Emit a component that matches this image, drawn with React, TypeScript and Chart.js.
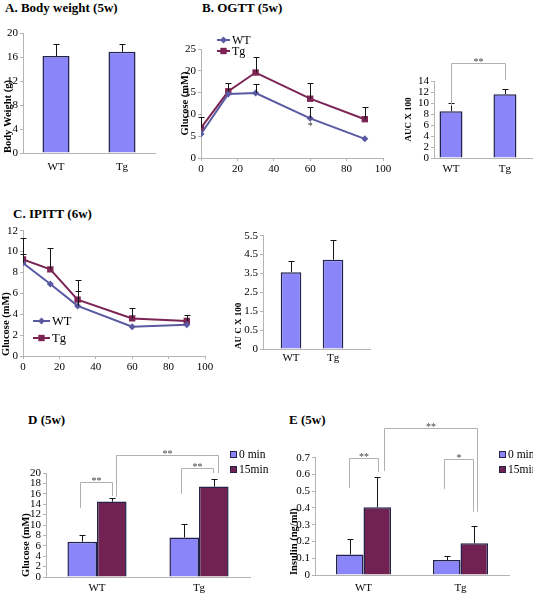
import React, { useEffect, useRef } from 'react';
import { Chart, registerables } from 'chart.js';
Chart.register(...registerables);

// ---------- data ----------
const groups = ['WT', 'Tg'];
// A. Body weight
const bodyWeight = [16.25, 16.95];
const bodyWeightErr = [1.95, 1.25];
// B. OGTT
const ogttTimes = [0, 15, 30, 60, 90];
const ogttWT = [5.5, 14.7, 14.9, 9.1, 4.4];
const ogttWTErr = [null, null, 2.1, 2.7, null];
const ogttTg = [6.9, 15.3, 19.6, 13.6, 8.9];
const ogttTgErr = [2.5, 1.9, 3.6, 3.6, 2.9];
const ogttAUC = [8.5, 11.6];
const ogttAUCErr = [1.5, 0.9];
// C. IPITT
const ipittTimes = [0, 15, 30, 60, 90];
const ipittWT = [8.9, 6.9, 4.8, 2.8, 3.0];
const ipittWTErr = [0.9, null, 1.4, null, null];
const ipittTg = [9.25, 8.3, 5.4, 3.6, 3.35];
const ipittTgErr = [2.05, 2.0, 1.9, 1.0, 0.55];
const ipittAUC = [3.57, 4.23];
const ipittAUCErr = [0.6, 1.05];
const ipittAUCTicks = [-0.5, 0.5, 1.5, 2.5, 3.5, 4.5, 5.5];
const ipittAUCTickLabels = ['0', '0.5', '1.5', '2.5', '3.5', '4.5', '5.5'];
// D. Glucose
const timeLabels = ['0 min', '15min'];
const glucose0 = [6.8, 7.6];
const glucose0Err = [1.3, 2.5];
const glucose15 = [14.5, 17.4];
const glucose15Err = [0.7, 1.4];
// E. Insulin
const insulin0 = [0.123, 0.089];
const insulin0Err = [0.092, 0.026];
const insulin15 = [0.404, 0.189];
const insulin15Err = [0.183, 0.103];

// ---------- style ----------
const SERIF = "'Liberation Serif', 'Times New Roman', Times, serif";
const AXIS = '#b4b4b4';
const BLUE = '#8a86fa';
const EDGE = '#23234a';
const MAROON = '#722252';
const WT_LINE = '#5a5aa3';
const TG_LINE = '#7c2454';

// ---------- plugins ----------
function drawMarker(ctx: CanvasRenderingContext2D, style: string, x: number, y: number, r: number) {
  ctx.beginPath();
  if (style === 'rectRot') {
    ctx.moveTo(x, y - r); ctx.lineTo(x + r, y); ctx.lineTo(x, y + r); ctx.lineTo(x - r, y); ctx.closePath();
  } else {
    const s = r * Math.SQRT1_2;
    ctx.rect(x - s, y - s, 2 * s, 2 * s);
  }
  ctx.fill();
}

const errorBarsPlugin = {
  id: 'errorBars',
  afterDatasetsDraw(chart: any) {
    const ctx = chart.ctx as CanvasRenderingContext2D;
    ctx.save();
    ctx.strokeStyle = '#151515';
    ctx.lineWidth = 1;
    chart.data.datasets.forEach((ds: any, di: number) => {
      const errs = ds.errs;
      if (!errs) return;
      const meta = chart.getDatasetMeta(di);
      const ys = chart.scales[meta.yAxisID];
      meta.data.forEach((el: any, i: number) => {
        const e = errs[i];
        if (e == null) return;
        const v = meta.controller.getParsed(i).y;
        const top = Math.round(ys.getPixelForValue(v + e)) + 0.5;
        const x = Math.round(el.x) + 0.5;
        ctx.beginPath();
        ctx.moveTo(x, el.y);
        ctx.lineTo(x, top);
        ctx.moveTo(x - 3, top);
        ctx.lineTo(x + 3, top);
        ctx.stroke();
      });
    });
    ctx.restore();
  },
};

type Bracket = { a: [number, number]; b: [number, number]; top: number; lb: number; rb: number; label: string; dxa?: number; dxb?: number };
function bracketsPlugin(items: Bracket[]) {
  return {
    id: 'brackets',
    afterDraw(chart: any) {
      const ctx = chart.ctx as CanvasRenderingContext2D;
      const ys = chart.scales.y;
      ctx.save();
      ctx.strokeStyle = '#b0b0b0';
      ctx.lineWidth = 1;
      ctx.fillStyle = '#444';
      ctx.font = `10px ${SERIF}`;
      ctx.textAlign = 'center';
      ctx.textBaseline = 'alphabetic';
      items.forEach((b) => {
        const ea = chart.getDatasetMeta(b.a[0]).data[b.a[1]];
        const eb = chart.getDatasetMeta(b.b[0]).data[b.b[1]];
        const xa = Math.round(ea.x + (b.dxa || 0)) + 0.5;
        const xb = Math.round(eb.x + (b.dxb || 0)) + 0.5;
        const yt = Math.round(ys.getPixelForValue(b.top)) + 0.5;
        ctx.beginPath();
        ctx.moveTo(xa, ys.getPixelForValue(b.lb));
        ctx.lineTo(xa, yt);
        ctx.lineTo(xb, yt);
        ctx.lineTo(xb, ys.getPixelForValue(b.rb));
        ctx.stroke();
        ctx.fillText(b.label, (xa + xb) / 2, yt + 1);
      });
      ctx.restore();
    },
  };
}

type LegendItem = { ds: number; x: number; y: number };
function lineLegendPlugin(items: LegendItem[], size: number, len: number) {
  return {
    id: 'lineLegend',
    afterDraw(chart: any) {
      const ctx = chart.ctx as CanvasRenderingContext2D;
      ctx.save();
      ctx.font = `${size}px ${SERIF}`;
      ctx.textBaseline = 'middle';
      ctx.textAlign = 'left';
      items.forEach((it) => {
        const ds: any = chart.data.datasets[it.ds];
        ctx.strokeStyle = ds.borderColor;
        ctx.fillStyle = ds.borderColor;
        ctx.lineWidth = 2;
        ctx.beginPath();
        ctx.moveTo(it.x, it.y);
        ctx.lineTo(it.x + len, it.y);
        ctx.stroke();
        drawMarker(ctx, ds.pointStyle, it.x + len / 2, it.y, ds.pointRadius);
        ctx.fillStyle = '#000';
        ctx.fillText(ds.label, it.x + len + 2, it.y + 1);
      });
      ctx.restore();
    },
  };
}

function barLegendPlugin(items: LegendItem[], size: number) {
  return {
    id: 'barLegend',
    afterDraw(chart: any) {
      const ctx = chart.ctx as CanvasRenderingContext2D;
      ctx.save();
      ctx.font = `${size}px ${SERIF}`;
      ctx.textBaseline = 'middle';
      ctx.textAlign = 'left';
      items.forEach((it) => {
        const ds: any = chart.data.datasets[it.ds];
        ctx.fillStyle = ds.backgroundColor;
        ctx.fillRect(it.x, it.y - 3, 6, 6);
        ctx.strokeStyle = EDGE;
        ctx.lineWidth = 1;
        ctx.strokeRect(it.x + 0.5, it.y - 2.5, 6, 6);
        ctx.fillStyle = '#000';
        ctx.fillText(ds.label, it.x + 9, it.y + 1);
      });
      ctx.restore();
    },
  };
}

function notesPlugin(items: { x: number; y: number; text: string }[]) {
  return {
    id: 'notes',
    afterDraw(chart: any) {
      const ctx = chart.ctx as CanvasRenderingContext2D;
      ctx.save();
      ctx.font = `10px ${SERIF}`;
      ctx.fillStyle = '#333';
      ctx.textAlign = 'center';
      ctx.textBaseline = 'middle';
      items.forEach((n) => {
        ctx.fillText(n.text, chart.scales.x.getPixelForValue(n.x), chart.scales.y.getPixelForValue(n.y) + 2);
      });
      ctx.restore();
    },
  };
}

// ---------- scale helpers ----------
type YOpts = { min: number; max: number; step?: number; width: number; title: string; titleSize: number; titlePad: number; align?: string; ticks?: number[]; cb?: any };
function yScale(o: YOpts) {
  return {
    type: 'linear', position: 'left', min: o.min, max: o.max,
    ticks: { stepSize: o.step, color: '#000', font: { family: SERIF, size: 11 }, padding: 2, autoSkip: false, ...(o.cb ? { callback: o.cb } : {}) },
    ...(o.ticks ? { afterBuildTicks: (s: any) => { s.ticks = o.ticks!.map((v) => ({ value: v })); } } : {}),
    grid: { drawOnChartArea: false, tickLength: 3, color: AXIS },
    border: { color: AXIS },
    title: { display: true, text: o.title, color: '#000', align: o.align || 'center', font: { family: SERIF, size: o.titleSize, weight: 'bold' }, padding: { top: o.titlePad, bottom: 0 } },
    afterFit: (s: any) => { s.width = o.width; },
  };
}
function xCat(h: number, pad: number) {
  return {
    type: 'category', offset: true,
    grid: { display: false, drawTicks: false, tickLength: 0 }, border: { color: AXIS },
    ticks: { color: '#000', font: { family: SERIF, size: 11 }, padding: pad },
    afterFit: (s: any) => { s.height = h; },
  };
}
function xIdx(h: number, pad: number, min: number, max: number, labels: string[]) {
  return {
    type: 'linear', min, max, offset: false,
    grid: { display: false, drawTicks: false, tickLength: 0, offset: false }, border: { color: AXIS },
    ticks: { color: '#000', font: { family: SERIF, size: 11 }, padding: pad, callback: (v: number) => labels[Math.round(v) - 1] ?? '' },
    afterBuildTicks: (s: any) => { s.ticks = labels.map((_, i) => ({ value: i + 1 })); },
    afterFit: (s: any) => { s.height = h; },
  };
}
function xTime(h: number) {
  return {
    type: 'linear', min: 0, max: 100,
    ticks: { stepSize: 20, color: '#000', font: { family: SERIF, size: 11 }, padding: 2 },
    grid: { drawOnChartArea: false, tickLength: 3, color: AXIS },
    border: { color: AXIS },
    afterFit: (s: any) => { s.height = h; },
  };
}
function baseOptions(top: number, right: number, scales: any) {
  return {
    responsive: false, animation: false,
    layout: { padding: { left: 0, right, top, bottom: 0 } },
    plugins: { legend: { display: false }, tooltip: { enabled: false } },
    scales,
  };
}
const pts = (xs: number[], ys: number[]) => xs.map((x, i) => ({ x, y: ys[i] }));
const idx = (ys: number[]) => ys.map((y, i) => ({ x: i + 1, y }));

function lineDs(label: string, xs: number[], ys: number[], errs: any[], color: string, style: string, r: number) {
  return { label, data: pts(xs, ys), errs, borderColor: color, backgroundColor: color, borderWidth: 2, pointStyle: style, pointRadius: r, pointBorderWidth: 0, tension: 0 };
}

// ---------- configs ----------
const makeA = () => ({
  type: 'bar',
  data: { labels: groups, datasets: [{ label: 'Body weight', data: bodyWeight, errs: bodyWeightErr, backgroundColor: BLUE, borderColor: EDGE, borderWidth: 1.5, categoryPercentage: 0.41, barPercentage: 1 }] },
  options: baseOptions(8, 15, { x: xCat(22, 8), y: yScale({ min: 0, max: 20, step: 4, width: 23, title: 'Body Weight (g)', titleSize: 10.5, titlePad: 2, align: 'start' }) }),
  plugins: [errorBarsPlugin],
});

const makeB = () => ({
  type: 'line',
  data: { datasets: [
    lineDs('WT', ogttTimes, ogttWT, ogttWTErr, WT_LINE, 'rectRot', 3.5),
    lineDs('Tg', ogttTimes, ogttTg, ogttTgErr, TG_LINE, 'rect', 4.5),
  ] },
  options: baseOptions(19, 13, { x: xTime(19), y: yScale({ min: 0, max: 25, step: 5, width: 23, title: 'Glucose (mM)', titleSize: 10.5, titlePad: 1 }) }),
  plugins: [errorBarsPlugin, lineLegendPlugin([{ ds: 0, x: 39, y: 10 }, { ds: 1, x: 39, y: 21 }], 12, 13), notesPlugin([{ x: 60, y: 7.7, text: '*' }])],
});

const makeBAUC = () => ({
  type: 'bar',
  data: { datasets: [{ label: 'AUC', data: idx(ogttAUC), errs: ogttAUCErr, backgroundColor: BLUE, borderColor: EDGE, borderWidth: 1.5, categoryPercentage: 0.426, barPercentage: 1 }] },
  options: baseOptions(29, 0, { x: xIdx(19, 5, 0.685, 2.52, groups), y: yScale({ min: 0, max: 14, step: 2, width: 34, title: 'AUC X 100', titleSize: 9, titlePad: 3.5 }) }),
  plugins: [errorBarsPlugin, bracketsPlugin([{ a: [0, 0], b: [0, 1], top: 17.3, lb: 9.5, rb: 14.2, label: '**' }])],
});

const makeC = () => ({
  type: 'line',
  data: { datasets: [
    lineDs('WT', ipittTimes, ipittWT, ipittWTErr, WT_LINE, 'rectRot', 3.5),
    lineDs('Tg', ipittTimes, ipittTg, ipittTgErr, TG_LINE, 'rect', 4.5),
  ] },
  options: baseOptions(30.7, 17, { x: xTime(19), y: yScale({ min: 0, max: 12, step: 2, width: 23, title: 'Glucose (mM)', titleSize: 10.5, titlePad: 0, align: 'start' }) }),
  plugins: [errorBarsPlugin, lineLegendPlugin([{ ds: 0, x: 33, y: 121 }, { ds: 1, x: 33, y: 138 }], 12.5, 17)],
});

const makeCAUC = () => ({
  type: 'bar',
  data: { datasets: [{ label: 'AUC', data: idx(ipittAUC), errs: ipittAUCErr, base: -0.5, backgroundColor: BLUE, borderColor: EDGE, borderWidth: 1.5, categoryPercentage: 0.49, barPercentage: 1 }] },
  options: baseOptions(10.7, 5, { x: xIdx(16, 3, 0.333, 2.88, groups), y: yScale({ min: -0.5, max: 5.5, width: 38, title: 'AU C X 100', titleSize: 9, titlePad: 8.5, align: 'start', ticks: ipittAUCTicks, cb: (_v: number, i: number) => ipittAUCTickLabels[i] }) }),
  plugins: [errorBarsPlugin],
});

const makeD = () => ({
  type: 'bar',
  data: { labels: groups, datasets: [
    { label: timeLabels[0], data: glucose0, errs: glucose0Err, backgroundColor: BLUE, borderColor: EDGE, borderWidth: 1.5, categoryPercentage: 0.58, barPercentage: 1 },
    { label: timeLabels[1], data: glucose15, errs: glucose15Err, backgroundColor: MAROON, borderColor: EDGE, borderWidth: 1.5, categoryPercentage: 0.58, barPercentage: 1 },
  ] },
  options: baseOptions(43, 25, { x: xCat(17, 5), y: yScale({ min: 0, max: 20, step: 2, width: 46, title: 'Glucose (mM)', titleSize: 10.5, titlePad: 19.5, align: 'start' }) }),
  plugins: [errorBarsPlugin,
    bracketsPlugin([
      { a: [0, 0], b: [1, 0], top: 18.3, lb: 13.3, rb: 15.6, label: '**', dxa: -2 },
      { a: [1, 0], b: [1, 1], top: 23.5, lb: 15.4, rb: 20.0, label: '**', dxa: 4, dxb: 4 },
      { a: [0, 1], b: [1, 1], top: 21.0, lb: 16.0, rb: 20.0, label: '**', dxa: -3, dxb: -1 },
    ]),
    barLegendPlugin([{ ds: 0, x: 230, y: 24 }, { ds: 1, x: 230, y: 39 }], 11.5)],
});

const makeE = () => ({
  type: 'bar',
  data: { labels: groups, datasets: [
    { label: timeLabels[0], data: insulin0, errs: insulin0Err, backgroundColor: BLUE, borderColor: EDGE, borderWidth: 1.5, categoryPercentage: 0.567, barPercentage: 1 },
    { label: timeLabels[1], data: insulin15, errs: insulin15Err, backgroundColor: MAROON, borderColor: EDGE, borderWidth: 1.5, categoryPercentage: 0.567, barPercentage: 1 },
  ] },
  options: baseOptions(47.7, 24, { x: xCat(19, 7), y: yScale({ min: 0, max: 0.7, step: 0.1, width: 45, title: 'Insulin (ng/ml)', titleSize: 10.5, titlePad: 17.5, align: 'start', cb: (v: number) => String(+v.toFixed(1)) }) }),
  plugins: [errorBarsPlugin,
    bracketsPlugin([
      { a: [0, 0], b: [1, 0], top: 0.70, lb: 0.52, rb: 0.615, label: '**', dxa: -1, dxb: 1 },
      { a: [1, 0], b: [1, 1], top: 0.88, lb: 0.62, rb: 0.378, label: '**', dxa: 7, dxb: 3 },
      { a: [0, 1], b: [1, 1], top: 0.692, lb: 0.513, rb: 0.376, label: '*', dxa: -3, dxb: -1 },
    ]),
    barLegendPlugin([{ ds: 0, x: 229, y: 44 }, { ds: 1, x: 229, y: 59 }], 11.5)],
});

// ---------- components ----------
type Box = { left: number; top: number; width: number; height: number };
function ChartCanvas({ box, make }: { box: Box; make: () => any }) {
  const ref = useRef<HTMLCanvasElement>(null);
  useEffect(() => {
    const c = new Chart(ref.current as HTMLCanvasElement, make());
    return () => c.destroy();
  }, []);
  return (
    <canvas ref={ref} width={box.width} height={box.height}
      style={{ position: 'absolute', left: box.left, top: box.top, width: box.width, height: box.height }} />
  );
}

const titleStyle: React.CSSProperties = {
  position: 'absolute', fontFamily: SERIF, fontWeight: 'bold', fontSize: 13, lineHeight: '15px', whiteSpace: 'nowrap', color: '#000',
};

export default function App() {
  return (
    <div style={{ position: 'fixed', left: 0, top: 0, width: 533, height: 594, background: '#fff', overflow: 'hidden' }}>
      <div style={{ ...titleStyle, left: 5, top: 0 }}>A. Body weight (5w)</div>
      <div style={{ ...titleStyle, left: 202, top: 0 }}>B. OGTT (5w)</div>
      <div style={{ ...titleStyle, left: 13, top: 206 }}>C. IPITT (6w)</div>
      <div style={{ ...titleStyle, left: 28, top: 412 }}>D (5w)</div>
      <div style={{ ...titleStyle, left: 289, top: 412 }}>E (5w)</div>
      <ChartCanvas box={{ left: 0, top: 25, width: 170, height: 150 }} make={makeA} />
      <ChartCanvas box={{ left: 178, top: 30, width: 218, height: 147 }} make={makeB} />
      <ChartCanvas box={{ left: 400, top: 52, width: 133, height: 125 }} make={makeBAUC} />
      <ChartCanvas box={{ left: 0, top: 200, width: 222, height: 175 }} make={makeC} />
      <ChartCanvas box={{ left: 225, top: 225, width: 150, height: 140 }} make={makeCAUC} />
      <ChartCanvas box={{ left: 0, top: 430, width: 275, height: 164 }} make={makeD} />
      <ChartCanvas box={{ left: 270, top: 410, width: 263, height: 184 }} make={makeE} />
    </div>
  );
}
